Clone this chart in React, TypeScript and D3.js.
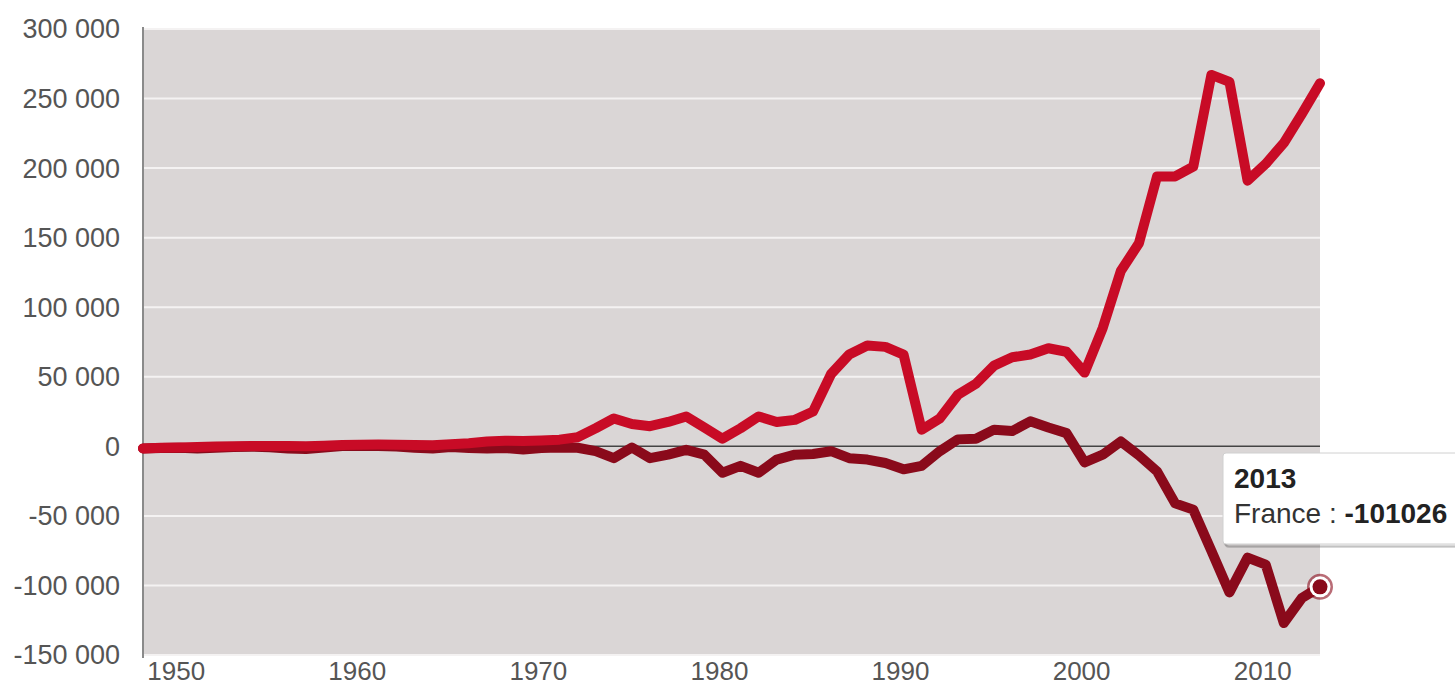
import React, { useEffect, useRef } from 'react';
import * as d3 from 'd3';

// years on the x axis
const years: number[] = d3.range(1948, 2014);

// light red series
const allemagne: number[] = [
  -1500, -1000, -800, -500, -200, 0, 200, 300, 200, 100,
  400, 900, 1200, 1300, 1200, 1000, 800, 1500, 2200, 3500,
  4000, 3800, 4200, 4800, 6500, 13000, 20000, 16000, 14500, 17500,
  21500, 13500, 5500, 13000, 21500, 17500, 19000, 25000, 52000, 66000,
  72500, 71500, 66000, 12000, 20000, 37000, 45000, 58000, 64000, 66000,
  70500, 68000, 53000, 85000, 126000, 146000, 194000, 194000, 201000, 267000,
  262000, 191000, 203000, 218000, 239000, 261000
];

// dark red series (France)
const france: number[] = [
  -1500, -1200, -1000, -1500, -1000, -500, -300, -600, -1500, -2000,
  -800, 200, 500, 300, -200, -1000, -1500, -500, -1200, -1500,
  -1200, -2200, -1200, -800, -1000, -3500, -8500, -800, -8500, -6000,
  -2500, -6000, -19000, -14000, -19000, -9500, -6000, -5500, -3500, -8500,
  -9500, -12000, -16500, -14000, -3500, 5000, 5500, 12000, 11000, 18000,
  13500, 9500, -11500, -6000, 3500, -6500, -18000, -41000, -45500, -75000,
  -105000, -80000, -85000, -127000, -109000, -101026
];

const yTicks: number[] = [-150000, -100000, -50000, 0, 50000, 100000, 150000, 200000, 250000, 300000];
const xTicks: number[] = [1950, 1960, 1970, 1980, 1990, 2000, 2010];

const FONT = '"Liberation Sans", Arial, sans-serif';

export default function App() {
  const ref = useRef<SVGSVGElement>(null);

  useEffect(() => {
    const svg = d3.select(ref.current);
    svg.selectAll('*').remove();

    const left = 143, right = 1320, top = 29, bottom = 655;

    const x = d3.scaleLinear().domain([1948, 2013]).range([left, right]);
    const y = d3.scaleLinear().domain([-150000, 300000]).range([bottom, top]);

    const loc = d3.formatLocale({ decimal: ',', thousands: ' ', grouping: [3], currency: ['', ''], minus: '-' });
    const fmt = loc.format(',d');

    // plot background
    svg.append('rect')
      .attr('x', left).attr('y', top)
      .attr('width', right - left).attr('height', bottom - top)
      .attr('fill', '#dad6d6');

    // grid lines
    svg.selectAll('line.grid')
      .data(yTicks.filter(d => d !== 0))
      .enter()
      .append('line')
      .attr('x1', left).attr('x2', right)
      .attr('y1', d => y(d)).attr('y2', d => y(d))
      .attr('stroke', '#f4f2f2')
      .attr('stroke-width', 2);

    // zero line
    svg.append('line')
      .attr('x1', left).attr('x2', right)
      .attr('y1', y(0)).attr('y2', y(0))
      .attr('stroke', '#444')
      .attr('stroke-width', 1.5);

    // y axis line
    svg.append('line')
      .attr('x1', left).attr('x2', left)
      .attr('y1', top - 2).attr('y2', bottom + 3)
      .attr('stroke', '#8a8a8a')
      .attr('stroke-width', 2);

    // y labels
    svg.selectAll('text.ylab')
      .data(yTicks)
      .enter()
      .append('text')
      .attr('x', 120)
      .attr('y', d => y(d))
      .attr('dy', '0.35em')
      .attr('text-anchor', 'end')
      .attr('font-family', FONT)
      .attr('font-size', 27)
      .attr('fill', '#555')
      .text(d => fmt(d));

    // x labels
    svg.selectAll('text.xlab')
      .data(xTicks)
      .enter()
      .append('text')
      .attr('x', d => x(d) - 3)
      .attr('y', 680)
      .attr('text-anchor', 'middle')
      .attr('font-family', FONT)
      .attr('font-size', 26)
      .attr('fill', '#555')
      .text(d => d);

    const line = d3.line<number>()
      .x((_, i) => x(years[i]))
      .y(d => y(d));

    svg.append('path')
      .datum(france)
      .attr('d', line)
      .attr('fill', 'none')
      .attr('stroke', '#8a0a1b')
      .attr('stroke-width', 10)
      .attr('stroke-linejoin', 'round')
      .attr('stroke-linecap', 'round');

    svg.append('path')
      .datum(allemagne)
      .attr('d', line)
      .attr('fill', 'none')
      .attr('stroke', '#c80b26')
      .attr('stroke-width', 10)
      .attr('stroke-linejoin', 'round')
      .attr('stroke-linecap', 'round');

    // hover marker on the last France point
    const lx = x(years[years.length - 1]);
    const ly = y(france[france.length - 1]);
    svg.append('circle').attr('cx', lx).attr('cy', ly).attr('r', 13)
      .attr('fill', '#8a0a1b').attr('opacity', 0.6);
    svg.append('circle').attr('cx', lx).attr('cy', ly).attr('r', 10.5)
      .attr('fill', '#fff');
    svg.append('circle').attr('cx', lx).attr('cy', ly).attr('r', 7.5)
      .attr('fill', '#8a0a1b');

    // tooltip
    const tt = svg.append('g').attr('transform', 'translate(1223,453)');
    [3, 2, 1].forEach(o => {
      tt.append('rect')
        .attr('x', o).attr('y', o)
        .attr('width', 260).attr('height', 91)
        .attr('rx', 3)
        .attr('fill', 'none')
        .attr('stroke', '#000')
        .attr('stroke-opacity', 0.05 * o)
        .attr('stroke-width', 2);
    });
    tt.append('rect')
      .attr('width', 260).attr('height', 91)
      .attr('rx', 3)
      .attr('fill', '#fff')
      .attr('stroke', '#d0d0d0')
      .attr('stroke-width', 1);
    tt.append('text')
      .attr('x', 11).attr('y', 35)
      .attr('font-family', FONT)
      .attr('font-size', 28)
      .attr('font-weight', 'bold')
      .attr('fill', '#222')
      .text(years[years.length - 1]);
    const t2 = tt.append('text')
      .attr('x', 11).attr('y', 70)
      .attr('font-family', FONT)
      .attr('font-size', 28)
      .attr('fill', '#333');
    t2.append('tspan').text('France : ');
    t2.append('tspan').attr('font-weight', 'bold').attr('fill', '#222')
      .text(france[france.length - 1]);
  }, []);

  return (
    <svg ref={ref} width={1455} height={686}
      style={{ position: 'absolute', left: 0, top: 0, display: 'block', background: '#fff' }} />
  );
}
